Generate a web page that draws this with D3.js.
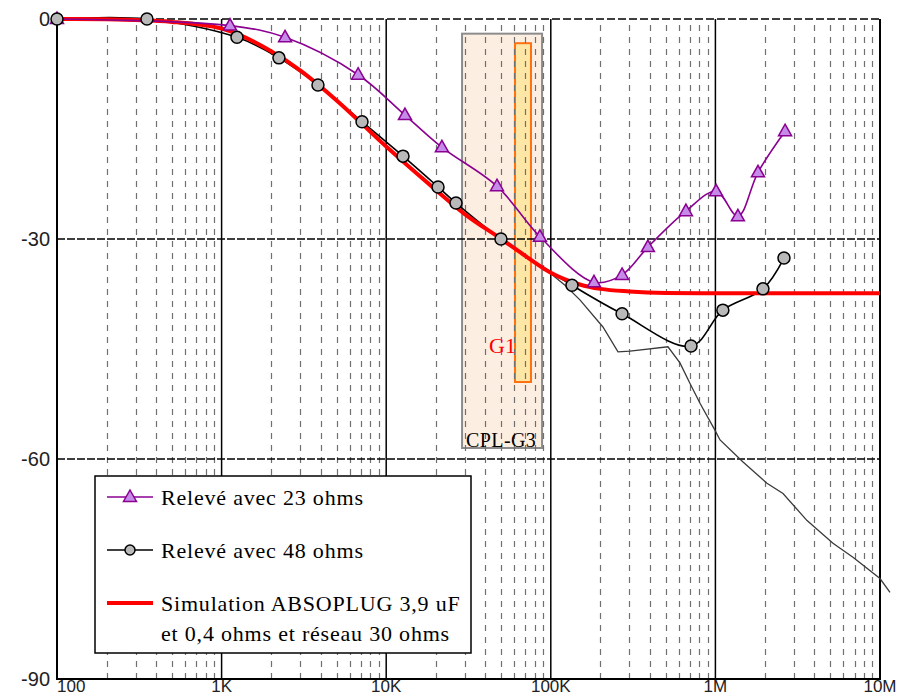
<!DOCTYPE html>
<html>
<head>
<meta charset="utf-8">
<script src="https://cdn.jsdelivr.net/npm/d3@7"></script>
<style>
body { margin: 0; background: #fff; }
</style>
</head>
<body>
<script>
var w = 899;
var h = 697;

var freq23 = [100, 1125, 2430, 6750, 13000, 21800, 47100, 85900, 183000, 271000, 389000, 662000, 1010000, 1370000, 1815000, 2650000];
var gain23 = [0, -0.9, -2.5, -7.6, -13.1, -17.5, -22.8, -29.7, -35.9, -34.9, -31.1, -26.2, -23.5, -26.9, -20.9, -15.3];

var freq48 = [100, 352, 1240, 2230, 3850, 7130, 12650, 20650, 26550, 49800, 134500, 271000, 711000, 1110000, 1945000, 2610000];
var gain48 = [0, 0, -2.5, -5.3, -9.0, -14.0, -18.7, -22.9, -25.1, -30.0, -36.3, -40.2, -44.6, -39.7, -36.8, -32.6];

var simFreq = [100, 200, 500, 1000, 2000, 3000, 5000, 10000, 20000, 30000, 50000, 70000, 100000, 150000, 200000, 300000, 500000, 1000000, 3000000, 10000000];
var simGain = [0, -0.05, -0.4, -1.3, -4.4, -7.0, -11.1, -17.4, -23.3, -26.6, -30.0, -32.3, -34.6, -36.2, -36.8, -37.15, -37.35, -37.4, -37.4, -37.4];

var grayFreq = [45800, 50500, 65100, 98900, 122000, 150300, 207400, 256000, 303000, 515000, 609000, 701000, 806000, 995000, 1067000, 1472000, 2057000, 2575000, 3604000, 5180000, 6850000, 10000000, 11500000];
var grayGain = [-29.3, -30.0, -31.9, -34.65, -36.3, -38.3, -42.0, -45.4, -45.3, -44.7, -46.9, -49.7, -52.4, -56.1, -57.4, -60.4, -63.3, -64.7, -68.4, -71.5, -73.4, -76.3, -78.2];

var xTicks = [100, 1000, 10000, 100000, 1000000, 10000000];
var xTickLabels = ["100", "1K", "10K", "100K", "1M", "10M"];
var yTicks = [0, -30, -60, -90];
var yTickLabels = ["0", "-30", "-60", "-90"];

// shaded bands: [fmin, fmax, gtop, gbottom]
var bandCPL = [28900, 88500, -2.0, -58.5];
var bandG1 = [60600, 75800, -3.3, -49.5];

var legendLabels = ["Relevé avec 23 ohms", "Relevé avec 48 ohms", "Simulation ABSOPLUG 3,9 uF", "et 0,4 ohms et réseau 30 ohms"];

var svg = d3.select("body").append("svg").attr("width", w).attr("height", h);

var xS = d3.scaleLog().domain([100, 1e7]).range([57, 880]);
var yS = d3.scaleLinear().domain([-90, 0]).range([679, 19]);

function zip(f, g) { return f.map(function(d, i) { return [d, g[i]]; }); }

// bands
function band(b, fill, stroke) {
    svg.append("rect")
        .attr("x", xS(b[0])).attr("y", yS(b[2]))
        .attr("width", xS(b[1]) - xS(b[0])).attr("height", yS(b[3]) - yS(b[2]))
        .attr("fill", fill).attr("stroke", stroke).attr("stroke-width", 2);
}
band(bandCPL, "#fdeee2", "#8c8c8c");
band(bandG1, "#fde6a6", "#ff7010");

// minor vertical grid
var minor = [];
for (var e = 2; e < 7; e++) {
    for (var m = 2; m < 10; m++) minor.push(m * Math.pow(10, e));
}
svg.selectAll("line.minor").data(minor).enter().append("line")
    .attr("class", "minor")
    .attr("x1", function(d) { return Math.round(xS(d)) + 0.5; })
    .attr("x2", function(d) { return Math.round(xS(d)) + 0.5; })
    .attr("y1", 25).attr("y2", 679)
    .attr("stroke", "#707070").attr("stroke-width", 1.2)
    .attr("stroke-dasharray", "6,6");

// major vertical grid
svg.selectAll("line.major").data(xTicks.slice(1, 5)).enter().append("line")
    .attr("x1", function(d) { return xS(d); }).attr("x2", function(d) { return xS(d); })
    .attr("y1", 19).attr("y2", 679)
    .attr("stroke", "#000").attr("stroke-width", 1.5);

// horizontal grid
svg.selectAll("line.hgrid").data([-30, -60]).enter().append("line")
    .attr("x1", 57).attr("x2", 880)
    .attr("y1", function(d) { return yS(d); }).attr("y2", function(d) { return yS(d); })
    .attr("stroke", "#000").attr("stroke-width", 1.5)
    .attr("stroke-dasharray", "8,2");

// frame
svg.append("line").attr("x1", 57).attr("x2", 880).attr("y1", 19).attr("y2", 19)
    .attr("stroke", "#000").attr("stroke-width", 1.5).attr("stroke-dasharray", "8,3");
svg.append("path").attr("d", "M57,19V679H880V19")
    .attr("fill", "none").attr("stroke", "#000").attr("stroke-width", 2);

// labels in bands
svg.append("text").attr("x", 489).attr("y", 353).text("G1")
    .attr("font-family", "Liberation Serif").attr("font-size", "22px").attr("fill", "#ff0000");
svg.append("text").attr("x", 466).attr("y", 447).text("CPL-G3")
    .attr("font-family", "Liberation Serif").attr("font-size", "20px")
    .attr("letter-spacing", "0.4px").attr("fill", "#000");

// curves
var lineLin = d3.line().x(function(d) { return xS(d[0]); }).y(function(d) { return yS(d[1]); });
var lineSmooth = d3.line().x(function(d) { return xS(d[0]); }).y(function(d) { return yS(d[1]); })
    .curve(d3.curveCatmullRom.alpha(0.5));
var lineMono = d3.line().x(function(d) { return xS(d[0]); }).y(function(d) { return yS(d[1]); })
    .curve(d3.curveMonotoneX);

svg.append("path").attr("d", lineLin(zip(grayFreq, grayGain)))
    .attr("fill", "none").attr("stroke", "#3a3a3a").attr("stroke-width", 1.3);
svg.append("path").attr("d", lineSmooth(zip(freq48, gain48)))
    .attr("fill", "none").attr("stroke", "#000").attr("stroke-width", 1.6);
svg.append("path").attr("d", lineMono(zip(simFreq, simGain)))
    .attr("fill", "none").attr("stroke", "#ff0000").attr("stroke-width", 4);
svg.append("path").attr("d", lineSmooth(zip(freq23, gain23)))
    .attr("fill", "none").attr("stroke", "#8a0090").attr("stroke-width", 1.6);

var tri = "M0,-7L6.5,4.5L-6.5,4.5Z";
svg.selectAll("path.tri").data(zip(freq23, gain23)).enter().append("path")
    .attr("class", "tri").attr("d", tri)
    .attr("transform", function(d) { return "translate(" + xS(d[0]) + "," + yS(d[1]) + ")"; })
    .attr("fill", "#c68ae8").attr("stroke", "#8a0090").attr("stroke-width", 1.5);
svg.selectAll("circle.pt").data(zip(freq48, gain48)).enter().append("circle")
    .attr("class", "pt")
    .attr("cx", function(d) { return xS(d[0]); }).attr("cy", function(d) { return yS(d[1]); })
    .attr("r", 6).attr("fill", "#b9b9b9").attr("stroke", "#000").attr("stroke-width", 1.5);

// axis labels
svg.selectAll("text.xt").data(xTicks).enter().append("text")
    .attr("class", "xt")
    .attr("x", function(d) { return xS(d); })
    .attr("y", 692)
    .attr("text-anchor", function(d, i) { return i == 0 ? "start" : "middle"; })
    .attr("font-family", "Liberation Sans").attr("font-size", "17px").attr("fill", "#222")
    .text(function(d, i) { return xTickLabels[i]; });
svg.selectAll("text.yt").data(yTicks).enter().append("text")
    .attr("class", "yt")
    .attr("x", 50).attr("y", function(d) { return yS(d) + 7; })
    .attr("text-anchor", "end")
    .attr("font-family", "Liberation Sans").attr("font-size", "20px").attr("fill", "#222")
    .text(function(d, i) { return yTickLabels[i]; });

// legend
var lg = svg.append("g");
lg.append("rect").attr("x", 95).attr("y", 476).attr("width", 376).attr("height", 177)
    .attr("fill", "#fff").attr("stroke", "#000").attr("stroke-width", 1.5);
lg.append("line").attr("x1", 107).attr("x2", 153).attr("y1", 497).attr("y2", 497)
    .attr("stroke", "#8a0090").attr("stroke-width", 1.6);
lg.append("path").attr("d", tri).attr("transform", "translate(130,497)")
    .attr("fill", "#c68ae8").attr("stroke", "#8a0090").attr("stroke-width", 1.5);
lg.append("line").attr("x1", 107).attr("x2", 153).attr("y1", 550).attr("y2", 550)
    .attr("stroke", "#000").attr("stroke-width", 1.6);
lg.append("circle").attr("cx", 130).attr("cy", 550).attr("r", 5)
    .attr("fill", "#b9b9b9").attr("stroke", "#000").attr("stroke-width", 1.5);
lg.append("line").attr("x1", 107).attr("x2", 153).attr("y1", 603).attr("y2", 603)
    .attr("stroke", "#ff0000").attr("stroke-width", 4);
var ly = [505, 558, 611, 641];
lg.selectAll("text").data(legendLabels).enter().append("text")
    .attr("x", 161).attr("y", function(d, i) { return ly[i]; })
    .attr("font-family", "Liberation Serif").attr("font-size", "22px")
    .attr("letter-spacing", "0.8px").attr("fill", "#000")
    .text(function(d) { return d; });
</script>
</body>
</html>
